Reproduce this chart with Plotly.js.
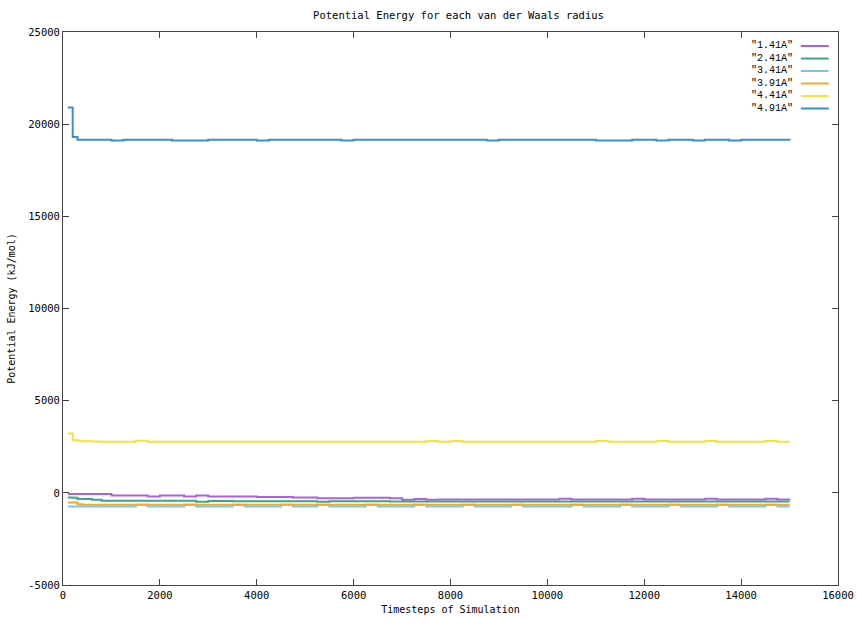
<!DOCTYPE html>
<html>
<head>
<meta charset="utf-8">
<script src="https://cdn.plot.ly/plotly-3.0.1.min.js"></script>
<style>html,body{margin:0;padding:0;background:#fff;}#chart{width:857px;height:629px;}</style>
</head>
<body>
<div id="chart"></div>
<script>
// Timesteps (x values)
const timesteps = [100,200,300,400,600,800,1000,1250,1500,1750,2000,2250,2500,2750,3000,3250,3500,3750,4000,4250,4500,4750,5000,5250,5500,5750,6000,6250,6500,6750,7000,7250,7500,7750,8000,8250,8500,8750,9000,9250,9500,9750,10000,10250,10500,10750,11000,11250,11500,11750,12000,12250,12500,12750,13000,13250,13500,13750,14000,14250,14500,14750,15000];

const seriesNames = ['"1.41A"', '"2.41A"', '"3.41A"', '"3.91A"', '"4.41A"', '"4.91A"'];
const seriesColors = ['#b45ee0', '#3aa886', '#7cc6ec', '#eeaa33', '#f0e442', '#3a8fcb'];

const r141 = [-60,-70,-70,-70,-70,-70,-140,-140,-140,-200,-150,-150,-200,-150,-200,-200,-200,-200,-220,-220,-220,-250,-250,-300,-290,-300,-270,-270,-270,-300,-370,-330,-370,-360,-360,-360,-360,-360,-360,-360,-360,-360,-360,-320,-360,-360,-360,-360,-360,-320,-360,-360,-360,-360,-360,-320,-360,-360,-360,-360,-320,-360,-330];
const r241 = [-250,-260,-340,-340,-380,-430,-430,-430,-430,-430,-430,-430,-430,-480,-440,-440,-450,-450,-450,-450,-450,-460,-460,-480,-460,-460,-460,-460,-460,-470,-470,-470,-470,-470,-470,-470,-470,-470,-470,-470,-470,-470,-470,-470,-470,-470,-470,-470,-470,-470,-470,-470,-470,-470,-470,-470,-470,-470,-470,-470,-470,-470,-470];
const r341 = [-740,-740,-740,-740,-740,-740,-740,-740,-650,-740,-740,-740,-650,-740,-740,-740,-650,-740,-740,-740,-650,-740,-740,-650,-740,-740,-740,-650,-740,-740,-740,-650,-740,-740,-740,-650,-740,-740,-740,-650,-740,-740,-740,-740,-650,-740,-740,-740,-650,-740,-740,-740,-650,-740,-740,-740,-650,-740,-740,-740,-650,-740,-740];
const r391 = [-520,-530,-620,-640,-650,-650,-650,-650,-650,-650,-650,-650,-650,-650,-650,-650,-650,-650,-650,-650,-650,-650,-650,-650,-650,-650,-650,-650,-650,-650,-650,-650,-650,-650,-650,-650,-650,-650,-650,-650,-650,-650,-650,-650,-650,-650,-650,-650,-650,-650,-650,-650,-650,-650,-650,-650,-650,-650,-650,-650,-650,-650,-650];
const r441 = [3220,2860,2830,2800,2780,2770,2770,2770,2820,2770,2770,2770,2770,2770,2770,2770,2770,2770,2770,2770,2770,2770,2770,2770,2770,2770,2770,2770,2770,2770,2770,2770,2810,2770,2810,2770,2770,2770,2770,2770,2770,2770,2770,2770,2770,2770,2810,2770,2770,2770,2770,2810,2770,2770,2770,2810,2770,2770,2770,2770,2810,2770,2770];
const r491 = [20900,19300,19150,19150,19150,19150,19110,19150,19150,19150,19150,19110,19110,19110,19150,19150,19150,19150,19120,19150,19150,19150,19150,19150,19150,19120,19150,19150,19150,19150,19150,19150,19150,19150,19150,19150,19150,19120,19150,19150,19150,19150,19150,19150,19150,19150,19110,19110,19120,19150,19150,19120,19150,19150,19120,19150,19150,19120,19150,19150,19150,19150,19110];

const allSeries = [r141, r241, r341, r391, r441, r491];

const xTickVals = [0,2000,4000,6000,8000,10000,12000,14000,16000];
const yTickVals = [-5000,0,5000,10000,15000,20000,25000];

const mono = 'DejaVu Sans Mono, monospace';

const traces = allSeries.map((vals, i) => ({
  x: timesteps, y: vals, type: 'scatter', mode: 'lines',
  name: seriesNames[i], showlegend: false,
  line: {color: seriesColors[i], width: 2, shape: 'hv'}
}));

// Custom gnuplot-style legend (text then sample line)
const legRowsY = [0.9747, 0.952, 0.9295, 0.9069, 0.8843, 0.8617];
const annotations = seriesNames.map((n, i) => ({
  xref: 'paper', yref: 'paper', x: 0.9445, y: legRowsY[i],
  xanchor: 'right', yanchor: 'middle', text: n, showarrow: false,
  font: {family: 'Liberation Mono, monospace', size: 10, color: '#000'}
}));
const shapes = seriesColors.map((c, i) => ({
  type: 'line', xref: 'paper', yref: 'paper',
  x0: 0.952, x1: 0.988, y0: legRowsY[i], y1: legRowsY[i],
  line: {color: c, width: 2}
}));

const axisCommon = {
  showgrid: false, zeroline: false, showline: true, mirror: 'ticks',
  linecolor: '#444', linewidth: 1, ticks: 'inside', ticklen: 6,
  tickcolor: '#444', tickwidth: 1,
  tickfont: {family: mono, size: 10.5, color: '#000'}
};

const layout = {
  width: 857, height: 629,
  margin: {l: 63, r: 19, t: 32, b: 44},
  paper_bgcolor: '#fff', plot_bgcolor: '#fff',
  title: {text: 'Potential Energy for each van der Waals radius',
          font: {family: mono, size: 10.5, color: '#000'},
          x: 0.535, xanchor: 'center', y: 0.976, yanchor: 'middle'},
  xaxis: Object.assign({}, axisCommon, {
    range: [0, 16000], tickvals: xTickVals, ticktext: xTickVals.map(String),
    title: {text: 'Timesteps of Simulation', font: {family: mono, size: 10, color: '#000'}, standoff: 6}
  }),
  yaxis: Object.assign({}, axisCommon, {
    range: [-5000, 25000], tickvals: yTickVals, ticktext: yTickVals.map(String),
    title: {text: 'Potential Energy (kJ/mol)', font: {family: mono, size: 10, color: '#000'}, standoff: 10}
  }),
  annotations: annotations,
  shapes: shapes,
  showlegend: false
};

Plotly.newPlot('chart', traces, layout, {displayModeBar: false, staticPlot: true});
</script>
</body>
</html>
